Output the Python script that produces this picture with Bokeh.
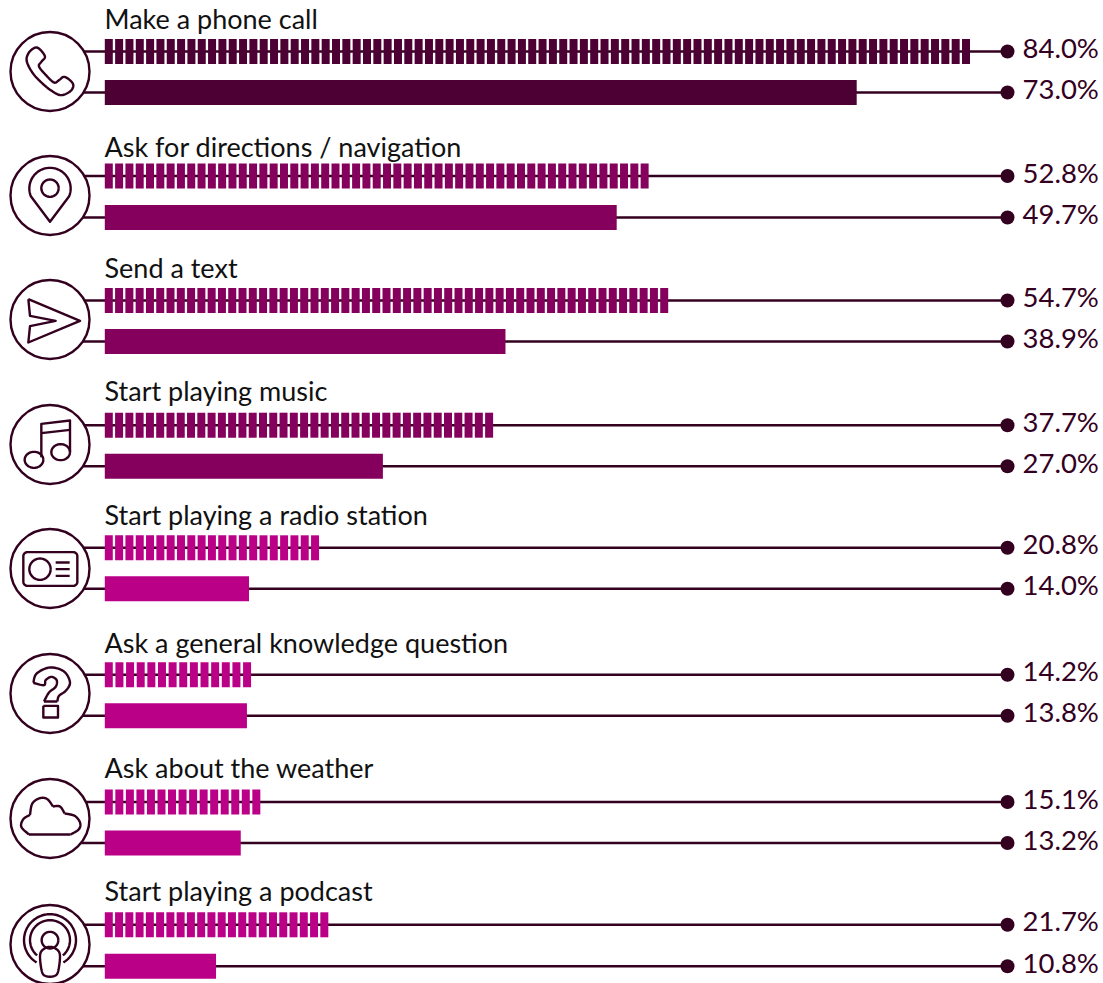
from math import cos, sin, radians, sqrt
from bokeh.plotting import figure
from bokeh.models import Range1d
from bokeh.embed import file_html
from bokeh.resources import INLINE
from bokeh.core.properties import value

# ---- data ----
labels = ["Make a phone call", "Ask for directions / navigation", "Send a text",
          "Start playing music", "Start playing a radio station",
          "Ask a general knowledge question", "Ask about the weather",
          "Start playing a podcast"]
striped_values = [84.0, 52.8, 54.7, 37.7, 20.8, 14.2, 15.1, 21.7]
solid_values = [73.0, 49.7, 38.9, 27.0, 14.0, 13.8, 13.2, 10.8]
striped_texts = ["84.0%", "52.8%", "54.7%", "37.7%", "20.8%", "14.2%", "15.1%", "21.7%"]
solid_texts = ["73.0%", "49.7%", "38.9%", "27.0%", "14.0%", "13.8%", "13.2%", "10.8%"]

# ---- layout (picture pixels) ----
W, H = 1103, 983
PX_PER_PCT, ORIGIN = 10.3, 104.3
line_top = [51, 175.5, 300, 424.7, 547.3, 674.3, 801.5, 924.3]
line_bot = [92, 217, 341, 465.7, 588.3, 715.3, 842.5, 965.7]
icon_cy = [71, 195, 319, 444, 568, 693, 818, 944]
label_base = [29, 157, 278, 401, 525, 653, 778, 901]
bar_colors = ["#4d0033", "#85005c", "#85005c", "#85005c", "#bb0088", "#bb0088", "#bb0088", "#bb0088"]
INK = "#33001f"
CX, R = 49.5, 39.5
BAR_H, DOT_X, STRIPE_W = 25, 1007, 8
FONT = "Lato"
TEXT_DY = -11

p = figure(width=W, height=H, output_backend="svg", toolbar_location=None,
           x_range=Range1d((0 - ORIGIN) / PX_PER_PCT, (W - ORIGIN) / PX_PER_PCT),
           y_range=Range1d(H, 0), min_border=0)
p.extra_x_ranges = {"px": Range1d(0, W)}
p.axis.visible = False
p.grid.visible = False
p.outline_line_color = None
p.background_fill_color = "#ffffff"

# leader lines and end dots
x0, x1, y0 = [], [], []
for i in range(8):
    for y in (line_top[i], line_bot[i]):
        x0.append(CX + sqrt(R * R - (y - icon_cy[i]) ** 2))
        x1.append(DOT_X)
        y0.append(y)
p.segment(x0=x0, x1=x1, y0=y0, y1=y0, x_range_name="px", line_color=INK, line_width=2.5)
p.scatter(x=x1, y=y0, x_range_name="px", size=14, fill_color=INK, line_color=None)

# solid bars
p.quad(left=[0] * 8, right=solid_values,
       top=[y - BAR_H / 2 for y in line_bot], bottom=[y + BAR_H / 2 for y in line_bot],
       fill_color=bar_colors, line_color=None)

# striped bars: one stripe per percentage point, the last ending on the value
sl, sr, st, sb, sc = [], [], [], [], []
sw = STRIPE_W / PX_PER_PCT
for v, y, c in zip(striped_values, line_top, bar_colors):
    n = round(v)
    step = (v - sw) / (n - 1)
    for k in range(n):
        sl.append(k * step); sr.append(k * step + sw)
        st.append(y - BAR_H / 2); sb.append(y + BAR_H / 2); sc.append(c)
p.quad(left=sl, right=sr, top=st, bottom=sb, fill_color=sc, line_color=None)

# texts
p.text(x=[104] * 8, y=[y + TEXT_DY for y in label_base], text=labels, x_range_name="px", text_font=value(FONT),
       text_font_size="27px", text_color="#111111", text_baseline="alphabetic")
p.text(x=[1022] * 8, y=[y + 7 + TEXT_DY for y in line_top], text=striped_texts, x_range_name="px",
       text_font=value(FONT), text_font_size="27.5px", text_color=INK, text_baseline="alphabetic")
p.text(x=[1022] * 8, y=[y + 7 + TEXT_DY for y in line_bot], text=solid_texts, x_range_name="px",
       text_font=value(FONT), text_font_size="27.5px", text_color=INK, text_baseline="alphabetic")

# ---- icons ----
def smooth(pts, closed=False, n=10):
    out = []
    m = len(pts)
    segs = m if closed else m - 1
    for i in range(segs):
        if closed:
            a, b, c, d = pts[(i - 1) % m], pts[i], pts[(i + 1) % m], pts[(i + 2) % m]
        else:
            a, b, c, d = pts[max(i - 1, 0)], pts[i], pts[i + 1], pts[min(i + 2, m - 1)]
        for j in range(n):
            t = j / n
            out.append(tuple(0.5 * (2 * b[q] + (c[q] - a[q]) * t + (2 * a[q] - 5 * b[q] + 4 * c[q] - d[q]) * t * t
                                    + (3 * b[q] - a[q] - 3 * c[q] + d[q]) * t ** 3) for q in (0, 1)))
    out.append(pts[0] if closed else pts[-1])
    return out

def arc(cx, cy, rx, ry, a0=0, a1=360, n=48):
    return [(cx + rx * cos(radians(a0 + (a1 - a0) * i / n)),
             cy - ry * sin(radians(a0 + (a1 - a0) * i / n))) for i in range(n + 1)]

def rrect(x0, y0, x1, y1, r):
    return (arc(x1 - r, y0 + r, r, r, 90, 0, 8) + arc(x1 - r, y1 - r, r, r, 0, -90, 8)
            + arc(x0 + r, y1 - r, r, r, -90, -180, 8) + arc(x0 + r, y0 + r, r, r, 180, 90, 8)
            + [(x1 - r, y0)])

# shapes are given in 3x units with the circle centre at (148, cy3)
icons = [
    (212, [smooth([(105, 140), (120, 148), (133, 168), (122, 183), (115, 197), (135, 222), (160, 245), (175, 238), (190, 228),
                   (210, 240), (218, 255), (208, 272), (180, 283), (150, 268), (120, 243), (95, 215), (78, 180), (85, 155)], True)]),
    (586, [arc(148, 565, 62, 62, -22, 202) + [(148, 665)] + arc(148, 565, 62, 62, -22, -22, 1)[:1],
           arc(148, 564, 26, 26)]),
    (208, [[(83, 147), (238, 212), (83, 277), (88, 228), (165, 212), (88, 197), (83, 147)]]),
    (582, [[(122, 620), (122, 520), (208, 510), (208, 605)], [(122, 548), (208, 538)],
           arc(100, 628, 28, 24), arc(180, 605, 28, 24)]),
    (205, [rrect(68, 156, 230, 257, 12),
           arc(118, 207, 32, 32), [(165, 187), (207, 187)], [(165, 207), (207, 207)], [(165, 227), (207, 227)]]),
    (578, [smooth([(98, 546), (108, 518), (148, 500), (190, 512), (208, 545), (195, 570), (175, 585), (170, 602)]),
           smooth([(98, 546), (130, 553), (135, 538), (152, 528), (168, 538), (165, 558), (145, 575), (130, 602)]),
           [(130, 602), (170, 602)], [(128, 615), (172, 615), (172, 650), (128, 650), (128, 615)]]),
    (233, [[(85, 281), (210, 281)],
           smooth([(210, 281), (235, 265), (238, 245), (222, 225), (192, 218)]),
           smooth([(192, 218), (178, 197), (157, 197)]),
           smooth([(157, 197), (140, 175), (118, 172), (95, 188), (88, 222)]),
           smooth([(88, 222), (68, 235), (62, 258), (85, 281)])]),
    (613, [arc(148, 600, 25, 25), arc(148, 600, 78, 78, -59, 239), arc(148, 600, 60, 60, -50, 230),
           smooth([(125, 630), (148, 620), (171, 630), (178, 650), (172, 695), (160, 708), (136, 708), (124, 695), (118, 650)], True)]),
]

ix, iy = [], []
for cy, (cy3, shapes) in zip(icon_cy, icons):
    for s in shapes:
        ix.append([CX + (q[0] - 148) / 3 for q in s])
        iy.append([cy + (q[1] - cy3) / 3 for q in s])
p.multi_line(xs=ix, ys=iy, x_range_name="px", line_color=INK, line_width=2.4, line_join="round")
p.circle(x=[CX] * 8, y=icon_cy, radius=R, x_range_name="px", fill_color=None, line_color=INK, line_width=2.4)

open("out.html", "w").write(file_html(p, INLINE))
